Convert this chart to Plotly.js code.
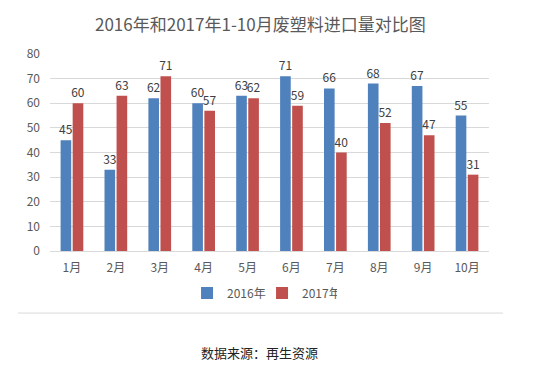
<!DOCTYPE html>
<html><head><meta charset="utf-8">
<script src="https://cdn.plot.ly/plotly-3.0.1.min.js"></script>
<style>html,body{margin:0;padding:0;background:#fff}#chart{width:539px;height:382px}</style>
</head><body><div id="chart"></div>
<script>
const months = ["1月","2月","3月","4月","5月","6月","7月","8月","9月","10月"];
const values2016 = [45,33,62,60,63,71,66,68,67,55];
const values2017 = [60,63,71,57,62,59,40,52,47,31];
const seriesNames = ["2016年","2017年"];
const titleText = "2016年和2017年1-10月废塑料进口量对比图";
const sourceText = "数据来源：再生资源";

const F = '"Noto Sans CJK SC", "Open Sans", sans-serif';
const mk = (y, name, color) => ({
  type: 'bar', x: months, y: y, name: name,
  marker: {color: color},
  text: y.map(String), textposition: 'outside', cliponaxis: false, constraintext: 'none',
  textfont: {size: 12, color: '#404040', family: F},
  hoverinfo: 'none'
});
const data = [mk(values2016, seriesNames[0], '#4F81BD'), mk(values2017, seriesNames[1], '#C0504D')];
const layout = {
  width: 539, height: 382,
  margin: {l: 50, r: 50, t: 54, b: 131},
  paper_bgcolor: '#fff', plot_bgcolor: '#fff',
  font: {family: F, color: '#595959', size: 12},
  title: {text: titleText, font: {size: 17, color: '#595959', family: F}, x: 0.483, xanchor: 'center', y: 0.935, yanchor: 'middle'},
  barmode: 'group', bargap: 0.45, bargroupgap: 0.12,
  xaxis: {showgrid: false, showline: true, linecolor: '#d9d9d9', ticks: '', ticklabelstandoff: 6, tickfont: {size: 12, color: '#595959'}, fixedrange: true},
  yaxis: {range: [0, 80], dtick: 10, showgrid: true, gridcolor: '#d9d9d9', zeroline: false, showline: false, ticks: '', tickfont: {size: 12, color: '#595959'}, ticklabelstandoff: 9, fixedrange: true},
  showlegend: true,
  legend: {orientation: 'h', x: 0.483, xanchor: 'center', y: -0.213, yanchor: 'middle', font: {size: 12, color: '#595959'}, itemwidth: 30, entrywidth: 30, entrywidthmode: 'pixels', traceorder: 'normal'},
  shapes: [{type: 'line', xref: 'paper', yref: 'paper', x0: -0.073, x1: 1.032, y0: -0.315, y1: -0.315, line: {color: '#d9d9d9', width: 1}}],
  annotations: [{text: sourceText, xref: 'paper', yref: 'paper', x: 0.478, y: -0.513, xanchor: 'center', yanchor: 'middle', showarrow: false, font: {size: 13, color: '#222', family: F}}]
};
Plotly.newPlot('chart', data, layout, {staticPlot: true, displayModeBar: false});
</script></body></html>
